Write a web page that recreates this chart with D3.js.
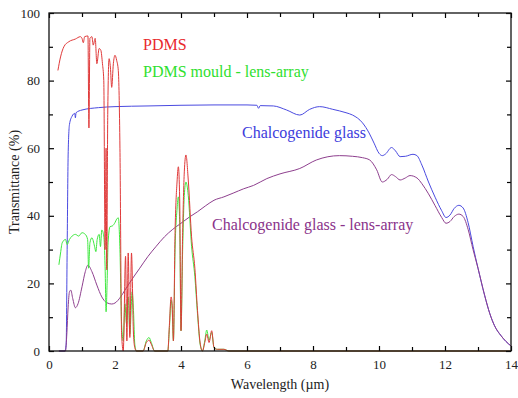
<!DOCTYPE html>
<html>
<head>
<meta charset="utf-8">
<script src="https://cdn.jsdelivr.net/npm/d3@7"></script>
<style>
  body { margin: 0; background: #fff; }
</style>
</head>
<body>
<div id="chart"></div>
<script>
// PDMS
var pdmsX = [0.27,0.35,0.45,0.6,0.8,0.95,1.0,1.04,1.08,1.18,1.21,1.24,1.3,1.34,1.4,1.45,1.52,1.57,1.62,1.66,1.7,1.73,1.75,1.78,1.82,1.86,1.9,1.95,2.0,2.05,2.1,2.15,2.2,2.25,2.32,2.36,2.4,2.45,2.5,2.56,2.6,2.65,2.85,2.95,3.03,3.1,3.2,3.6,3.65,3.7,3.73,3.77,3.82,3.88,3.92,3.96,4.0,4.05,4.1,4.15,4.22,4.32,4.42,4.5,4.58,4.65,4.72,4.78,4.85,4.93,5.0,5.1,5.3,5.45,14];
var pdmsY = [83,87,90,91.5,92.3,93,92.5,91.2,93,93.2,66,92.5,93,90.5,92.5,85,89.5,89,85,80,30,60,24,70,86.5,84,78,85,87.5,86,83,60,5,0,28,3,29,4,29,5,1,0,0,2.5,3.2,2,0,0,8,16,14,3,35,50,54.5,45,6,35,53,58,50.6,33.8,24.5,12,2.4,0,2.5,5,2.5,6,1,0.5,0.5,0,0];

// PDMS mould - lens-array
var mouldX = [0.3,0.35,0.4,0.5,0.55,0.62,0.7,0.8,0.9,1.0,1.1,1.17,1.2,1.24,1.3,1.38,1.42,1.46,1.52,1.56,1.6,1.66,1.7,1.73,1.76,1.79,1.85,1.92,2.0,2.05,2.1,2.15,2.2,2.25,2.3,2.35,2.4,2.45,2.52,2.56,2.6,2.65,2.85,2.95,3.03,3.1,3.2,3.6,3.65,3.7,3.73,3.77,3.82,3.88,3.92,3.96,4.0,4.05,4.1,4.15,4.22,4.32,4.42,4.5,4.58,4.65,4.72,4.78,4.85,4.93,5.0,5.1,5.3,5.45,14];
var mouldY = [25.5,29,32,33,31.5,33,34,34.5,34,35,34.5,33,24.5,32,33.5,31,29.4,33,34.5,30.9,35.8,34,25,11.6,20,32,36.8,37,38,39,39.4,30,8,3,14,8,16,5,17.5,12,2,0,0,3,4,2.5,0,0,7,15,13,3,30,42,45.6,38,6,30,46,50,46,31,22,11,2,0,3,6.2,3.2,5.5,1,0.5,0.5,0,0];

// Chalcogenide glass
var glassX = [0.3,0.48,0.52,0.55,0.58,0.62,0.7,0.78,0.8,0.82,1.0,1.5,2.0,3.0,4.0,5.0,6.0,6.3,6.35,6.4,6.8,7.2,7.6,7.9,8.2,8.6,9.0,9.2,9.5,9.7,9.85,10.0,10.1,10.2,10.38,10.5,10.64,10.8,11.03,11.15,11.3,11.5,11.7,11.9,12.03,12.15,12.28,12.42,12.55,12.7,12.85,13.0,13.2,13.36,13.5,13.7,13.85,14.0];
var glassY = [0,0,2,30,58,67,69.5,70.3,69,70.5,71.3,72,72.3,72.5,72.7,72.8,72.8,72.7,71.8,72.6,72.5,71.3,69.8,71.5,72.3,71.5,70.5,69.8,67.5,64.5,61.5,58.5,57.8,58.3,60.2,59.2,57.5,57.6,58.2,57.8,55,50,45.5,41.5,39.5,40.2,42.2,43.1,42.3,38,31,24.5,16.5,11,7.5,4.5,2.8,1.5];

// Chalcogenide glass - lens-array
var lensX = [0.3,0.5,0.54,0.58,0.62,0.66,0.72,0.8,0.88,1.0,1.1,1.18,1.3,1.45,1.6,1.75,1.9,2.0,2.17,2.3,2.5,2.75,3.0,3.25,3.5,3.75,4.0,4.25,4.5,4.75,5.0,5.3,5.58,5.9,6.2,6.6,7.0,7.6,8.1,8.8,9.2,9.5,9.72,9.93,10.1,10.25,10.38,10.5,10.64,10.8,10.94,11.15,11.3,11.5,11.7,11.9,12.03,12.15,12.28,12.42,12.55,12.7,12.85,13.0,13.2,13.36,13.5,13.7,13.85,14.0];
var lensY = [0,0,5,13,17.5,18,15.5,12.8,14,19,23.5,25.4,23.5,19.5,16,14.3,13.9,14.2,16,18,21,24.5,28,31,33.8,36,37.8,39.6,41.2,43,44.6,45.6,46.7,48,49,51,52.4,54,56.5,57.8,57.6,57.2,56.5,53.6,50,50.8,52.2,51.6,50.6,51.2,51.9,51.2,49.5,46.5,43,39.5,37.8,38.3,39.8,40.5,39.8,36,30,24.5,16.5,11,7.5,4.5,2.8,1.5];

var xTicks = [0,2,4,6,8,10,12,14];
var yTicks = [0,20,40,60,80,100];

var serif = '"Liberation Serif", "DejaVu Serif", serif';
var width = 518, height = 398;
var margin = {top: 13, right: 7, bottom: 47, left: 49};

var svg = d3.select('#chart').append('svg')
  .attr('width', width)
  .attr('height', height);

var x = d3.scaleLinear().domain([0, 14]).range([margin.left, width - margin.right]);
var y = d3.scaleLinear().domain([0, 100]).range([height - margin.bottom, margin.top]);

function series(xs, ys) {
  return xs.map(function(d, i) { return [d, ys[i]]; });
}

var line = d3.line()
  .x(function(d) { return x(d[0]); })
  .y(function(d) { return y(d[1]); })
  .curve(d3.curveMonotoneX);

var plot = svg.append('g');
plot.append('path').datum(series(glassX, glassY))
  .attr('d', line).attr('fill', 'none').attr('stroke', '#4a4ae0').attr('stroke-width', 1);
plot.append('path').datum(series(lensX, lensY))
  .attr('d', line).attr('fill', 'none').attr('stroke', '#8e3f8e').attr('stroke-width', 1);
plot.append('path').datum(series(mouldX, mouldY))
  .attr('d', line).attr('fill', 'none').attr('stroke', '#3ee83e').attr('stroke-width', 1);
plot.append('path').datum(series(pdmsX, pdmsY))
  .attr('d', line).attr('fill', 'none').attr('stroke', '#e03a3a').attr('stroke-width', 1);

// axes, ticks inward on all four sides
var axisG = svg.append('g');
function drawAxis(axis, tx, ty) {
  var g = axisG.append('g').attr('transform', 'translate(' + tx + ',' + ty + ')').call(axis);
  g.select('.domain').remove();
  g.selectAll('line').attr('stroke', '#000').attr('stroke-width', 1.2);
  return g;
}
var yb = height - margin.bottom, xr = width - margin.right;

drawAxis(d3.axisBottom(x).tickValues(xTicks).tickSize(-5).tickPadding(9).tickFormat(d3.format('d')), 0, yb);
drawAxis(d3.axisBottom(x).tickValues(d3.range(1, 14, 2)).tickSize(-4).tickFormat(''), 0, yb);
drawAxis(d3.axisTop(x).tickValues(xTicks).tickSize(-5).tickFormat(''), 0, margin.top);
drawAxis(d3.axisTop(x).tickValues(d3.range(1, 14, 2)).tickSize(-4).tickFormat(''), 0, margin.top);
drawAxis(d3.axisLeft(y).tickValues(yTicks).tickSize(-5).tickPadding(9).tickFormat(d3.format('d')), margin.left, 0);
drawAxis(d3.axisLeft(y).tickValues(d3.range(10, 100, 20)).tickSize(-4).tickFormat(''), margin.left, 0);
drawAxis(d3.axisRight(y).tickValues(yTicks).tickSize(-5).tickFormat(''), xr, 0);
drawAxis(d3.axisRight(y).tickValues(d3.range(10, 100, 20)).tickSize(-4).tickFormat(''), xr, 0);

svg.selectAll('.tick text')
  .style('font-family', serif)
  .style('font-size', '13px')
  .attr('fill', '#222');

svg.append('rect')
  .attr('x', margin.left).attr('y', margin.top)
  .attr('width', xr - margin.left).attr('height', yb - margin.top)
  .attr('fill', 'none').attr('stroke', '#111').attr('stroke-width', 1.3);

svg.append('text')
  .attr('x', (margin.left + xr) / 2).attr('y', 389)
  .attr('text-anchor', 'middle').style('font-family', serif).style('font-size', '14px').attr('fill', '#222')
  .text('Wavelength (\u00b5m)');
svg.append('text')
  .attr('transform', 'translate(19,' + ((margin.top + yb) / 2) + ') rotate(-90)')
  .attr('text-anchor', 'middle').style('font-family', serif).style('font-size', '14px').attr('fill', '#222')
  .text('Transmittance (%)');

// curve labels
function label(tx, ty, color, txt) {
  svg.append('text').attr('x', tx).attr('y', ty)
    .style('font-family', serif).style('font-size', '16px')
    .attr('fill', color).text(txt);
}
label(143, 50, '#e8282c', 'PDMS');
label(143, 77, '#2fe02f', 'PDMS mould - lens-array');
label(242, 138, '#3c3cdc', 'Chalcogenide glass');
label(212, 230, '#8a338a', 'Chalcogenide glass - lens-array');
</script>
</body>
</html>
